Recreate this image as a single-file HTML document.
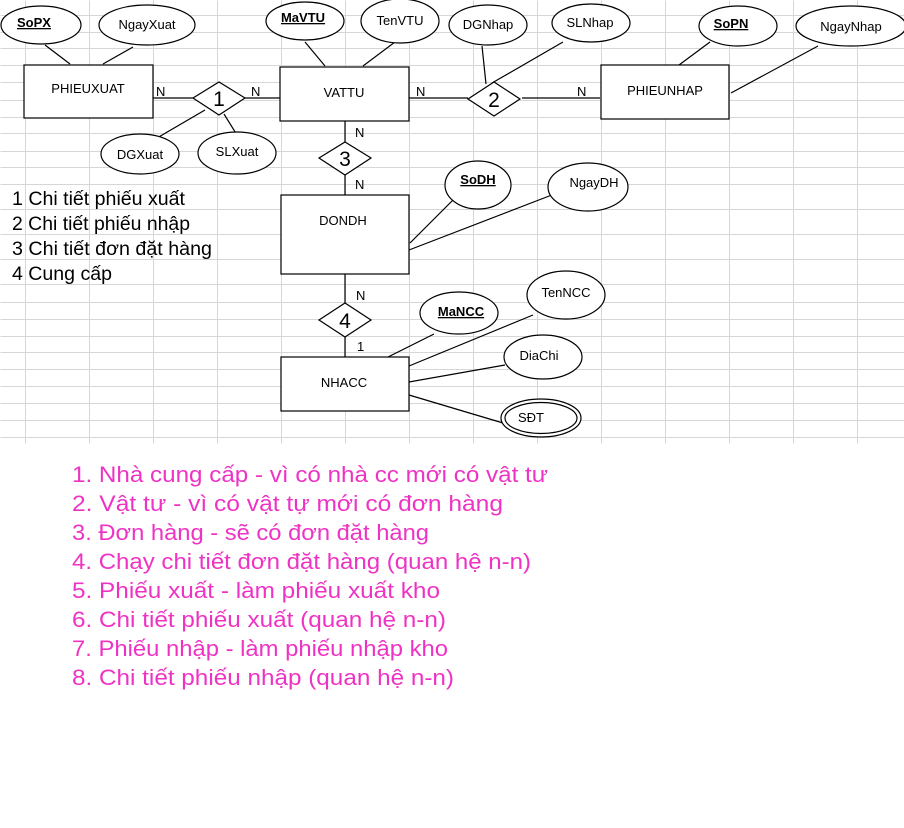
<!DOCTYPE html>
<html><head><meta charset="utf-8"><style>
html,body{margin:0;padding:0;background:#fff;}
svg{display:block;}
text{font-family:"Liberation Sans",Arial,sans-serif;fill:#000;}
</style></head><body>
<svg width="904" height="828" viewBox="0 0 904 828" xmlns="http://www.w3.org/2000/svg">
<g stroke="#d6d6d6" stroke-width="1" shape-rendering="crispEdges" transform="translate(0.5,0.5)">
<line x1="25" y1="0" x2="25" y2="443"/><line x1="89" y1="0" x2="89" y2="443"/><line x1="153" y1="0" x2="153" y2="443"/><line x1="217" y1="0" x2="217" y2="443"/><line x1="281" y1="0" x2="281" y2="443"/><line x1="345" y1="0" x2="345" y2="443"/><line x1="409" y1="0" x2="409" y2="443"/><line x1="473" y1="0" x2="473" y2="443"/><line x1="537" y1="0" x2="537" y2="443"/><line x1="601" y1="0" x2="601" y2="443"/><line x1="665" y1="0" x2="665" y2="443"/><line x1="729" y1="0" x2="729" y2="443"/><line x1="793" y1="0" x2="793" y2="443"/><line x1="857" y1="0" x2="857" y2="443"/>
<line x1="0" y1="15" x2="904" y2="15"/><line x1="0" y1="32" x2="904" y2="32"/><line x1="0" y1="48" x2="904" y2="48"/><line x1="0" y1="65" x2="904" y2="65"/><line x1="0" y1="82" x2="904" y2="82"/><line x1="0" y1="100" x2="904" y2="100"/><line x1="0" y1="117" x2="904" y2="117"/><line x1="0" y1="133" x2="904" y2="133"/><line x1="0" y1="151" x2="904" y2="151"/><line x1="0" y1="167" x2="904" y2="167"/><line x1="0" y1="184" x2="904" y2="184"/><line x1="0" y1="209" x2="904" y2="209"/><line x1="0" y1="234" x2="904" y2="234"/><line x1="0" y1="259" x2="904" y2="259"/><line x1="0" y1="284" x2="904" y2="284"/><line x1="0" y1="302" x2="904" y2="302"/><line x1="0" y1="319" x2="904" y2="319"/><line x1="0" y1="336" x2="904" y2="336"/><line x1="0" y1="352" x2="904" y2="352"/><line x1="0" y1="369" x2="904" y2="369"/><line x1="0" y1="386" x2="904" y2="386"/><line x1="0" y1="403" x2="904" y2="403"/><line x1="0" y1="420" x2="904" y2="420"/><line x1="0" y1="437" x2="904" y2="437"/>
</g>
<g stroke="#000" stroke-width="1.2" fill="none">
<line x1="45" y1="45" x2="70" y2="64"/><line x1="133" y1="47" x2="103" y2="64"/>
<line x1="153" y1="98" x2="193" y2="98"/><line x1="245" y1="98" x2="281" y2="98"/>
<line x1="205" y1="110" x2="157" y2="138"/><line x1="224" y1="114" x2="237" y2="135"/>
<line x1="305" y1="42" x2="325" y2="66"/><line x1="395" y1="42" x2="363" y2="66"/>
<line x1="409" y1="98" x2="468" y2="98"/><line x1="482" y1="46" x2="486" y2="84"/><line x1="563" y1="42" x2="492" y2="83"/>
<line x1="522" y1="98" x2="600" y2="98"/><line x1="710" y1="42" x2="679" y2="65"/><line x1="818" y1="46" x2="731" y2="93"/>
<line x1="345" y1="121" x2="345" y2="142"/><line x1="345" y1="175" x2="345" y2="195"/>
<line x1="455" y1="198" x2="410" y2="243"/><line x1="557" y1="193" x2="409" y2="250"/>
<line x1="345" y1="274" x2="345" y2="303"/><line x1="345" y1="337" x2="345" y2="357"/>
<line x1="434" y1="334" x2="388" y2="357"/><line x1="533" y1="315" x2="409" y2="366"/><line x1="505" y1="365" x2="409" y2="382"/><line x1="503" y1="423" x2="409" y2="395"/>
</g>
<g stroke="#000" stroke-width="1.2" fill="#fff">
<rect x="24" y="65" width="129" height="53"/><rect x="280" y="67" width="129" height="54"/><rect x="601" y="65" width="128" height="54"/><rect x="281" y="195" width="128" height="79"/><rect x="281" y="357" width="128" height="54"/>
<polygon points="193,98 219,82 245,98 219,115"/><polygon points="468,99 494,82 520,99 494,116"/><polygon points="319,158 345,142 371,158 345,175"/><polygon points="319,320 345,303 371,320 345,337"/>
<ellipse cx="41" cy="25" rx="40" ry="19"/><ellipse cx="147" cy="25" rx="48" ry="20"/><ellipse cx="305" cy="21" rx="39" ry="19"/><ellipse cx="400" cy="21" rx="39" ry="22"/>
<ellipse cx="488" cy="25" rx="39" ry="20"/><ellipse cx="591" cy="23" rx="39" ry="19"/><ellipse cx="738" cy="26" rx="39" ry="20"/><ellipse cx="851" cy="26" rx="55" ry="20"/>
<ellipse cx="140" cy="154" rx="39" ry="20"/><ellipse cx="237" cy="153" rx="39" ry="21"/>
<ellipse cx="478" cy="185" rx="33" ry="24"/><ellipse cx="588" cy="187" rx="40" ry="24"/>
<ellipse cx="459" cy="313" rx="39" ry="21"/><ellipse cx="566" cy="295" rx="39" ry="24"/><ellipse cx="543" cy="357" rx="39" ry="22"/>
<ellipse cx="541" cy="418" rx="40" ry="19"/><ellipse cx="541" cy="418" rx="36" ry="15.5"/>
</g>
<g font-size="13">
<text x="88" y="93" text-anchor="middle">PHIEUXUAT</text><text x="344" y="97" text-anchor="middle">VATTU</text><text x="665" y="95" text-anchor="middle">PHIEUNHAP</text><text x="343" y="225" text-anchor="middle">DONDH</text><text x="344" y="387" text-anchor="middle">NHACC</text>
<text x="147" y="29" text-anchor="middle">NgayXuat</text><text x="400" y="25" text-anchor="middle">TenVTU</text><text x="488" y="29" text-anchor="middle">DGNhap</text><text x="590" y="27" text-anchor="middle">SLNhap</text><text x="851" y="31" text-anchor="middle">NgayNhap</text>
<text x="140" y="159" text-anchor="middle">DGXuat</text><text x="237" y="156" text-anchor="middle">SLXuat</text><text x="594" y="187" text-anchor="middle">NgayDH</text><text x="566" y="297" text-anchor="middle">TenNCC</text><text x="539" y="360" text-anchor="middle">DiaChi</text><text x="531" y="422" text-anchor="middle">SĐT</text>
<g font-weight="bold" text-decoration="underline">
<text x="34" y="27" text-anchor="middle">SoPX</text><text x="303" y="22" text-anchor="middle">MaVTU</text><text x="731" y="28" text-anchor="middle">SoPN</text><text x="478" y="184" text-anchor="middle">SoDH</text><text x="461" y="316" text-anchor="middle">MaNCC</text>
</g>
<g font-size="13"><text x="156" y="96">N</text><text x="251" y="96">N</text><text x="416" y="96">N</text><text x="577" y="96">N</text><text x="355" y="137">N</text><text x="355" y="189">N</text><text x="356" y="300">N</text><text x="357" y="351">1</text></g>
</g>
<g font-size="21" text-anchor="middle"><text x="219" y="106">1</text><text x="494" y="107">2</text><text x="345" y="166">3</text><text x="345" y="328">4</text></g>
<g font-size="19">
<text x="12" y="205" textLength="173" lengthAdjust="spacingAndGlyphs">1 Chi tiết phiếu xuất</text>
<text x="12" y="230" textLength="178" lengthAdjust="spacingAndGlyphs">2 Chi tiết phiếu nhập</text>
<text x="12" y="255" textLength="200" lengthAdjust="spacingAndGlyphs">3 Chi tiết đơn đặt hàng</text>
<text x="12" y="280" textLength="100" lengthAdjust="spacingAndGlyphs">4 Cung cấp</text>
</g>
<g font-size="22">
<text x="72" y="482" style="fill:#ee33c4" textLength="476" lengthAdjust="spacingAndGlyphs">1. Nhà cung cấp - vì có nhà cc mới có vật tư</text>
<text x="72" y="511" style="fill:#ee33c4" textLength="431" lengthAdjust="spacingAndGlyphs">2. Vật tư - vì có vật tự mới có đơn hàng</text>
<text x="72" y="540" style="fill:#ee33c4" textLength="357" lengthAdjust="spacingAndGlyphs">3. Đơn hàng - sẽ có đơn đặt hàng</text>
<text x="72" y="569" style="fill:#ee33c4" textLength="459" lengthAdjust="spacingAndGlyphs">4. Chạy chi tiết đơn đặt hàng (quan hệ n-n)</text>
<text x="72" y="598" style="fill:#ee33c4" textLength="368" lengthAdjust="spacingAndGlyphs">5. Phiếu xuất - làm phiếu xuất kho</text>
<text x="72" y="627" style="fill:#ee33c4" textLength="374" lengthAdjust="spacingAndGlyphs">6. Chi tiết phiếu xuất (quan hệ n-n)</text>
<text x="72" y="656" style="fill:#ee33c4" textLength="376" lengthAdjust="spacingAndGlyphs">7. Phiếu nhập - làm phiếu nhập kho</text>
<text x="72" y="685" style="fill:#ee33c4" textLength="382" lengthAdjust="spacingAndGlyphs">8. Chi tiết phiếu nhập (quan hệ n-n)</text>
</g>
</svg>
</body></html>
